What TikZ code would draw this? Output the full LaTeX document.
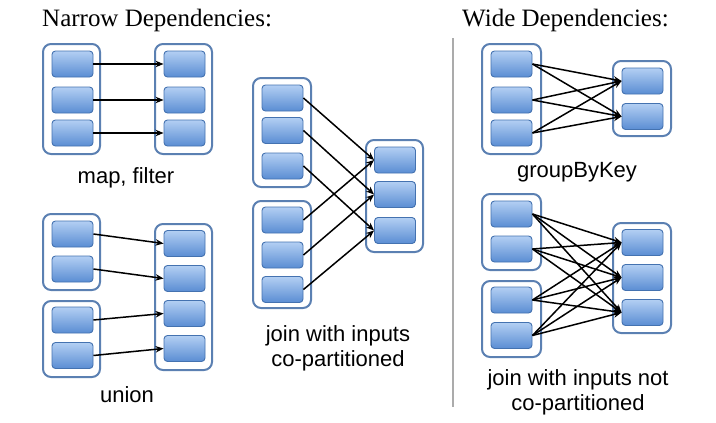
\documentclass[tikz,border=0pt]{standalone}
\usepackage{fontspec}
\setmainfont{Liberation Serif}
\setsansfont{Liberation Sans}
\usetikzlibrary{arrows.meta}
\definecolor{ptop}{HTML}{B3CFF3}
\definecolor{pbot}{HTML}{5A8DD3}
\definecolor{pedge}{HTML}{4472B0}
\definecolor{cedge}{HTML}{5B80B2}
\definecolor{sepgray}{HTML}{ABABAB}
\begin{document}
\begin{tikzpicture}[x=1pt,y=-1pt,
 part/.style={rectangle,rounded corners=3.5pt,minimum width=41pt,minimum height=26pt,top color=ptop,bottom color=pbot,draw=pedge,line width=0.9pt,inner sep=0pt},
 cont/.style={rectangle,rounded corners=8pt,draw=cedge,line width=2pt,fill=white,inner sep=0pt},
 arr/.style={-{Stealth[length=8pt,width=6.5pt]},line width=1.5pt,black},
 ttl/.style={font=\fontsize{25}{30}\selectfont,anchor=base west,inner sep=0pt},
 lbl/.style={font=\sffamily\fontsize{22}{25}\selectfont,align=center,inner sep=0pt,anchor=base}]
\useasboundingbox (0,0) rectangle (716,423);

% titles
\node[ttl] (t1) at (42,27) {Narrow Dependencies:};
\node[ttl] (t2) at (462,27) {Wide Dependencies:};

% separator
\coordinate (s1) at (453,38);
\coordinate (s2) at (453,407);
\draw[sepgray,line width=2pt] (s1) -- (s2);

% ---- map, filter
\node[cont,minimum width=57pt,minimum height=110pt] (mc1) at (71.5,99) {};
\node[cont,minimum width=57pt,minimum height=110pt] (mc2) at (183.5,99) {};
\foreach \i/\y in {1/64,2/100,3/133}{
  \node[part] (ma\i) at (72.5,\y) {};
  \node[part] (mb\i) at (184.5,\y) {};
  \draw[arr] (ma\i.east) -- (mb\i.west);
}
\node[lbl] (ml) at (126,183) {map, filter};

% ---- union
\node[cont,minimum width=57pt,minimum height=76pt] (uc1) at (71.5,252) {};
\node[cont,minimum width=57pt,minimum height=76pt] (uc2) at (71.5,339) {};
\node[cont,minimum width=57pt,minimum height=146pt] (uc3) at (183.5,297) {};
\foreach \i/\y in {1/234,2/269,3/320,4/355.5}{
  \node[part] (ua\i) at (72.5,\y) {};
}
\foreach \i/\y in {1/243.5,2/278.5,3/313.5,4/348.5}{
  \node[part] (ub\i) at (184.5,\y) {};
}
\foreach \i in {1,2,3,4}{
  \draw[arr] (ua\i.east) -- (ub\i.west);
}
\node[lbl] (ul) at (127,402) {union};

% ---- join co-partitioned
\node[cont,minimum width=58pt,minimum height=109pt] (jc1) at (282,132.5) {};
\node[cont,minimum width=58pt,minimum height=107pt] (jc2) at (282,254.5) {};
\node[cont,minimum width=57pt,minimum height=112pt] (jc3) at (394.5,196) {};
\foreach \i/\y in {1/98,2/130.5,3/166}{
  \node[part] (ja\i) at (282.5,\y) {};
}
\foreach \i/\y in {1/220,2/255,3/289.5}{
  \node[part] (jb\i) at (282.5,\y) {};
}
\foreach \i/\y in {1/160,2/194.5,3/230.5}{
  \node[part] (jr\i) at (395,\y) {};
}
\foreach \i in {1,2,3}{
  \draw[arr] (ja\i.east) -- (jr\i.west);
  \draw[arr] (jb\i.east) -- (jr\i.west);
}
\node[lbl] (jl) at (338,366) {join with inputs\\co-partitioned};

% ---- groupByKey
\node[cont,minimum width=59pt,minimum height=110pt] (gc1) at (511.5,99) {};
\node[cont,minimum width=58pt,minimum height=75pt] (gc2) at (642,98.5) {};
\foreach \i/\y in {1/64,2/100,3/133}{
  \node[part] (ga\i) at (511.5,\y) {};
}
\foreach \i/\y in {1/81,2/116.5}{
  \node[part] (gb\i) at (642.5,\y) {};
}
\foreach \i in {1,2,3}{
  \foreach \j in {1,2}{
    \draw[arr] (ga\i.east) -- (gb\j.west);
  }
}
\node[lbl] (gl) at (577,177) {groupByKey};

% ---- join not co-partitioned
\node[cont,minimum width=59pt,minimum height=76pt] (wc1) at (511.5,232) {};
\node[cont,minimum width=59pt,minimum height=76pt] (wc2) at (511.5,319) {};
\node[cont,minimum width=58pt,minimum height=110pt] (wc3) at (642,278) {};
\foreach \i/\y in {1/214,2/249,3/300,4/335.5}{
  \node[part] (wa\i) at (511.5,\y) {};
}
\foreach \i/\y in {1/242.5,2/277.5,3/312.5}{
  \node[part] (wb\i) at (642.5,\y) {};
}
\foreach \i in {1,2,3,4}{
  \foreach \j in {1,2,3}{
    \draw[arr] (wa\i.east) -- (wb\j.west);
  }
}
\node[lbl] (wl) at (578,410) {join with inputs not\\co-partitioned};
\end{tikzpicture}
\end{document}
